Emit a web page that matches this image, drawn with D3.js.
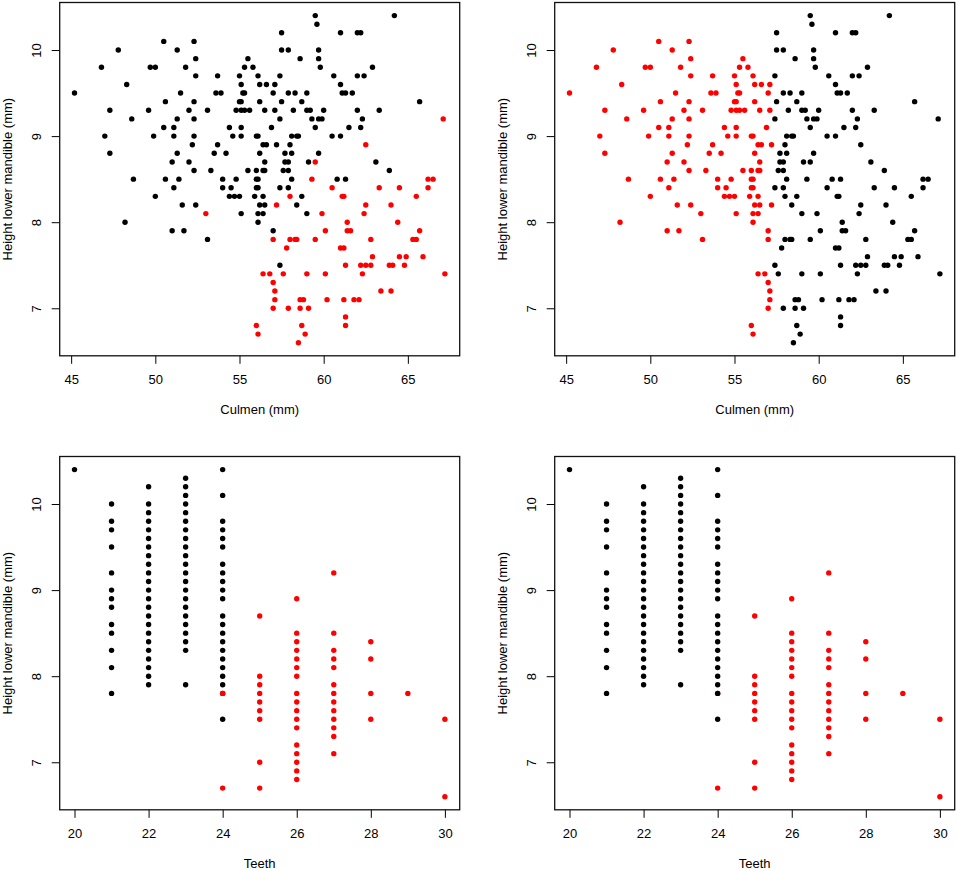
<!DOCTYPE html>
<html>
<head>
<meta charset="utf-8">
<script src="https://cdn.jsdelivr.net/npm/d3@7/dist/d3.min.js"></script>
<style>
    body { margin: 0; background: #fff; }
    svg { display: block; font-family: "Liberation Sans", Arial, sans-serif; }
</style>
</head>
<body>
<svg width="957" height="871"></svg>
<script>
// top panels: [height, culmen values at that height]
const culmenBlack = [
    [10.4, [59.5, 64.2]],
    [10.3, [59.6]],
    [10.2, [57.5, 61.0, 62.0, 62.2]],
    [10.1, [50.5, 52.3]],
    [10.0, [47.8, 51.3, 57.5, 57.9, 59.7]],
    [9.9, [52.4, 55.5, 58.6, 59.7]],
    [9.8, [46.8, 49.7, 50.0, 51.8, 55.3, 55.8, 59.8, 62.9]],
    [9.7, [52.4, 53.7, 55.0, 56.1, 57.4, 60.6, 62.0, 62.4]],
    [9.6, [48.3, 55.1, 56.2, 56.6, 57.1, 61.0]],
    [9.5, [45.2, 51.5, 53.6, 53.9, 55.2, 55.3, 57.0, 57.9, 58.3, 59.0, 61.1, 61.3, 61.7]],
    [9.4, [50.6, 52.3, 55.0, 55.1, 56.2, 57.5, 58.7, 65.7]],
    [9.3, [47.3, 49.6, 52.0, 53.1, 54.8, 55.1, 55.3, 55.6, 56.5, 57.1, 58.2, 59.0, 59.2, 60.0, 62.0, 63.3]],
    [9.2, [48.6, 51.3, 52.3, 57.4, 59.3, 59.7, 59.9, 62.3]],
    [9.1, [50.5, 51.1, 54.4, 55.1, 56.9, 59.5, 61.5, 62.2]],
    [9.0, [47.0, 49.9, 51.1, 52.3, 54.6, 55.1, 56.0, 56.1, 58.1, 58.4, 58.5, 60.5, 61.0]],
    [8.9, [52.2, 53.7, 56.4, 56.6, 57.2, 58.0]],
    [8.8, [47.3, 51.3, 53.5, 54.2, 56.2, 57.7, 58.1, 59.7]],
    [8.7, [51.0, 52.0, 56.5, 57.7, 57.9, 59.1, 63.1]],
    [8.6, [52.3, 53.3, 55.5, 56.0, 56.4, 56.5, 57.6, 57.9, 63.9]],
    [8.5, [48.7, 50.6, 51.4, 54.0, 54.8, 56.0, 56.1, 58.1, 60.8, 61.3]],
    [8.4, [51.1, 54.0, 54.5, 56.0, 56.1, 57.4, 57.9]],
    [8.3, [50.0, 54.4, 54.7, 55.0, 55.9, 56.4, 58.7]],
    [8.2, [51.6, 52.4, 56.2, 56.5, 58.4]],
    [8.1, [55.1, 56.1, 56.4, 59.0]],
    [8.0, [48.2, 56.1]],
    [7.9, [51.0, 51.7, 57.0]],
    [7.8, [53.1]],
    [7.5, [57.4]]
];

const culmenRed = [
    [9.2, [67.1]],
    [8.9, [62.5]],
    [8.7, [59.5]],
    [8.5, [59.3, 66.2, 66.5]],
    [8.4, [60.5, 63.3, 64.5, 66.2]],
    [8.3, [58.0, 61.1, 61.2, 65.5]],
    [8.2, [57.2, 62.5, 64.0]],
    [8.1, [53.0, 59.9, 62.4]],
    [8.0, [61.4, 64.4]],
    [7.9, [60.1, 61.4, 61.6, 65.7]],
    [7.8, [57.0, 58.0, 58.3, 58.4, 59.5, 62.8, 65.3, 65.5]],
    [7.7, [57.8, 61.0, 61.2]],
    [7.6, [62.9, 64.5, 64.9, 65.9]],
    [7.5, [61.3, 62.2, 62.5, 62.8, 63.9, 64.1, 64.8]],
    [7.4, [56.4, 56.8, 57.6, 59.0, 60.1, 62.3, 67.2]],
    [7.3, [57.0]],
    [7.2, [57.1, 63.4, 64.0]],
    [7.1, [57.1, 58.6, 58.8, 60.2, 61.2, 61.8, 62.1]],
    [7.0, [57.0, 57.9, 58.6, 59.1]],
    [6.9, [61.3]],
    [6.8, [56.0, 58.7, 61.3]],
    [6.7, [56.1, 58.9]],
    [6.6, [58.5]]
];

// right-hand top panel splits the groups on culmen
const culmenSplit = 57.3;

// bottom panels: [teeth, heights]
const teethBlack = [
    [20, [10.4]],
    [21, [10.0, 9.8, 9.7, 9.5, 9.2, 9.0, 8.9, 8.8, 8.6, 8.5, 8.3, 8.1, 7.8]],
    [22, [10.2, 10.0, 9.9, 9.8, 9.7, 9.6, 9.5, 9.4, 9.3, 9.2, 9.1, 9.0, 8.9, 8.8, 8.7, 8.6, 8.5, 8.4, 8.3, 8.2, 8.1, 8.0, 7.9]],
    [23, [10.3, 10.2, 10.1, 10.0, 9.9, 9.8, 9.7, 9.6, 9.5, 9.4, 9.3, 9.2, 9.1, 9.0, 8.9, 8.8, 8.7, 8.6, 8.5, 8.4, 8.3, 7.9]],
    [24, [10.4, 10.1, 9.8, 9.7, 9.6, 9.5, 9.3, 9.2, 9.1, 9.0, 8.9, 8.7, 8.6, 8.5, 8.4, 8.3, 8.2, 8.1, 8.0, 7.9, 7.8, 7.5]]
];

const teethRed = [
    [24, [7.8, 6.7]],
    [25, [8.7, 8.0, 7.9, 7.8, 7.7, 7.6, 7.5, 7.0, 6.7]],
    [26, [8.9, 8.5, 8.4, 8.3, 8.2, 8.1, 8.0, 7.8, 7.7, 7.6, 7.5, 7.4, 7.2, 7.1, 7.0, 6.9, 6.8]],
    [27, [9.2, 8.5, 8.3, 8.2, 8.1, 7.9, 7.8, 7.7, 7.6, 7.5, 7.4, 7.3, 7.1]],
    [28, [8.4, 8.2, 7.8, 7.5]],
    [29, [7.8]],
    [30, [7.5, 6.6]]
];

const culmenTicks = [45, 50, 55, 60, 65];
const teethTicks = [20, 22, 24, 26, 28, 30];
const heightTicks = [7, 8, 9, 10];

const yTitle = "Height lower mandible (mm)";

const svg = d3.select("svg");
const plotW = 400;
const plotH = 353.3;
const fontSize = 13;


// R style: data range plus 4% on each side
function rDomain(values) {
    const [lo, hi] = d3.extent(values);
    const pad = (hi - lo) * 0.04;
    return [lo - pad, hi + pad];
}

function topPoints(rows, group) {
    return rows.flatMap(([h, vals]) => vals.map(c => ({ x: c, y: h, group })));
}

function bottomPoints(rows, group) {
    return rows.flatMap(([t, vals]) => vals.map(h => ({ x: t, y: h, group })));
}


function drawPanel(left, top, points, xTicks, xTitle, colorOf) {
    const g = svg.append("g").attr("transform", `translate(${left},${top})`);

    const x = d3.scaleLinear()
        .domain(rDomain(points.map(d => d.x)))
        .range([0, plotW]);
    const y = d3.scaleLinear()
        .domain(rDomain(points.map(d => d.y)))
        .range([plotH, 0]);

    g.selectAll("circle")
        .data(points)
        .join("circle")
        .attr("cx", d => x(d.x))
        .attr("cy", d => y(d.y))
        .attr("r", 2.7)
        .attr("fill", d => colorOf(d));

    const xAxis = g.append("g")
        .attr("transform", `translate(0,${plotH})`)
        .call(d3.axisBottom(x).tickValues(xTicks).tickSize(8).tickPadding(11));

    const yAxis = g.append("g")
        .call(d3.axisLeft(y).tickValues(heightTicks).tickSize(8).tickFormat(d3.format("d")));

    [xAxis, yAxis].forEach(a => {
        a.select(".domain").remove();
        a.selectAll("line").attr("stroke", "#000");
        a.selectAll("text")
            .attr("fill", "#000")
            .style("font-size", fontSize + "px")
            .style("font-family", "\"Liberation Sans\", Arial, sans-serif");
    });

    // y tick labels sit parallel to the axis
    yAxis.selectAll("text")
        .attr("x", null)
        .attr("dy", "0.35em")
        .attr("text-anchor", "middle")
        .attr("transform", "translate(-23,0) rotate(-90)");

    g.append("rect")
        .attr("width", plotW)
        .attr("height", plotH)
        .attr("fill", "none")
        .attr("stroke", "#111")
        .attr("stroke-width", 1.3);

    g.append("text")
        .attr("x", plotW / 2)
        .attr("y", plotH + 54)
        .attr("text-anchor", "middle")
        .attr("dominant-baseline", "central")
        .style("font-size", fontSize + "px")
        .text(xTitle);

    g.append("text")
        .attr("transform", `translate(-52,${plotH / 2}) rotate(-90)`)
        .attr("text-anchor", "middle")
        .attr("dominant-baseline", "central")
        .style("font-size", fontSize + "px")
        .text(yTitle);
}


const black = "#000000";
const red = "#ff0000";

const topAll = topPoints(culmenBlack, "a").concat(topPoints(culmenRed, "b"));
const teethA = bottomPoints(teethBlack, "a");
const teethB = bottomPoints(teethRed, "b");

drawPanel(59.7, 2.5, topAll, culmenTicks, "Culmen (mm)",
    d => d.group === "b" ? red : black);

drawPanel(554.7, 2.5, topAll, culmenTicks, "Culmen (mm)",
    d => d.x < culmenSplit ? red : black);

// left: red drawn over black, right: black over red
drawPanel(59.7, 456.5, teethA.concat(teethB), teethTicks, "Teeth",
    d => d.group === "b" ? red : black);

drawPanel(554.7, 456.5, teethB.concat(teethA), teethTicks, "Teeth",
    d => d.group === "b" ? red : black);
</script>
</body>
</html>
